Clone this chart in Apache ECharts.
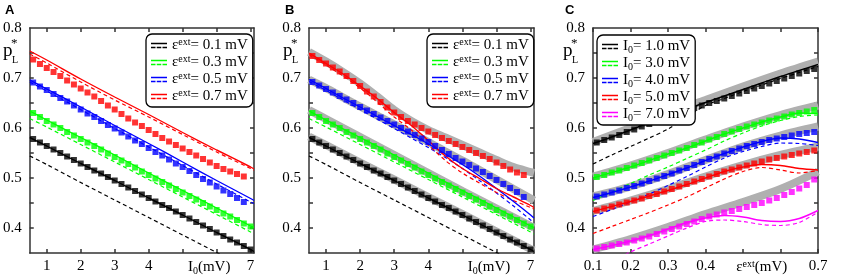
<!DOCTYPE html>
<html><head><meta charset="utf-8">
<script src="https://cdn.jsdelivr.net/npm/echarts@6/dist/echarts.min.js"></script>
<style>html,body{margin:0;padding:0;background:#fff}#c{width:851px;height:278px}</style>
</head><body><div id="c"></div>
<script>
// ---------- DATA ----------
// Panels A & B: x = I0 (mV)
const I0_mk = [0.6,0.8,1.0,1.2,1.4,1.6,1.8,2.0,2.2,2.4,2.6,2.8,3.0,3.2,3.4,3.6,3.8,4.0,4.2,4.4,4.6,4.8,5.0,5.2,5.4,5.6,5.8,6.0,6.2,6.4,6.6,6.8,7.0];
const I0_lnA = [0.5,1,2,3,4,5,6,7,7.1];
const I0_lnB = [0.5,1,1.5,2,2.5,3,3.5,4,4.5,5,5.5,6,6.5,7,7.1];
const I0_ticks = [1,2,3,4,5,6,7];
const I0_labels = [1,2,3,4,5.78,7];

const k_mk = [0.578,0.571,0.564,0.557,0.550,0.543,0.536,0.529,0.522,0.515,0.509,0.502,0.495,0.488,0.481,0.474,0.467,0.460,0.453,0.446,0.440,0.433,0.426,0.419,0.412,0.405,0.398,0.391,0.384,0.377,0.371,0.364,0.357];
const g_mk = [0.630,0.622,0.614,0.607,0.600,0.592,0.585,0.578,0.571,0.564,0.557,0.549,0.542,0.535,0.528,0.521,0.513,0.506,0.499,0.492,0.485,0.478,0.471,0.464,0.457,0.450,0.443,0.436,0.429,0.423,0.416,0.409,0.403];
const A_b_mk = [0.691,0.683,0.676,0.668,0.660,0.653,0.645,0.637,0.629,0.622,0.614,0.606,0.599,0.591,0.583,0.575,0.568,0.560,0.552,0.545,0.537,0.529,0.522,0.514,0.506,0.498,0.491,0.483,0.475,0.468,0.460,0.452];
const A_r_mk = [0.737,0.728,0.720,0.712,0.704,0.695,0.687,0.679,0.671,0.663,0.654,0.645,0.637,0.628,0.619,0.611,0.604,0.596,0.588,0.580,0.573,0.566,0.559,0.552,0.545,0.538,0.531,0.524,0.518,0.513,0.508,0.503];

const k_solid = [0.581,0.564,0.529,0.495,0.460,0.426,0.391,0.357,0.353];
const k_dash  = [0.544,0.527,0.491,0.456,0.421,0.386,0.351,0.316,0.312];
const g_solid = [0.634,0.616,0.581,0.546,0.510,0.475,0.440,0.404,0.401];
const g_dash  = [0.619,0.602,0.567,0.532,0.497,0.462,0.427,0.392,0.388];
const A_b_solid = [0.696,0.678,0.642,0.605,0.569,0.532,0.495,0.459,0.455];
const A_b_dash  = [0.692,0.674,0.637,0.599,0.562,0.525,0.488,0.452,0.449];
const A_r_solid = [0.754,0.736,0.698,0.662,0.627,0.591,0.556,0.522,0.518];
const A_r_dash  = [0.748,0.730,0.692,0.656,0.622,0.587,0.552,0.519,0.515];

const B_k_band = [0.583,0.566,0.531,0.497,0.462,0.428,0.393,0.358,0.355];
const B_g_band = [0.636,0.618,0.582,0.546,0.510,0.474,0.439,0.404,0.401];
const B_b_band = [0.697,0.680,0.661,0.643,0.625,0.607,0.590,0.572,0.553,0.535,0.516,0.497,0.478,0.459,0.455];
const B_r_band = [0.752,0.733,0.712,0.689,0.663,0.636,0.614,0.596,0.581,0.566,0.551,0.536,0.522,0.512,0.510];
const B_b_solid = [0.697,0.679,0.660,0.642,0.623,0.605,0.587,0.568,0.548,0.527,0.504,0.479,0.453,0.426,0.420];
const B_b_dash  = [0.693,0.675,0.656,0.637,0.618,0.599,0.580,0.561,0.541,0.519,0.495,0.470,0.444,0.416,0.410];
const B_r_solid = [0.750,0.729,0.708,0.684,0.659,0.631,0.605,0.575,0.544,0.519,0.499,0.479,0.462,0.445,0.441];
const B_r_dash  = [0.747,0.726,0.704,0.680,0.652,0.622,0.596,0.566,0.535,0.510,0.490,0.471,0.455,0.441,0.438];
const B_b_mk = [0.692,0.685,0.678,0.671,0.664,0.657,0.650,0.642,0.635,0.628,0.621,0.614,0.607,0.600,0.593,0.586,0.579,0.572,0.564,0.556,0.548,0.540,0.533,0.526,0.519,0.512,0.504,0.496,0.488,0.480,0.472,0.462];
const B_r_mk = [0.744,0.736,0.729,0.721,0.713,0.704,0.694,0.684,0.673,0.663,0.652,0.641,0.631,0.622,0.614,0.607,0.600,0.593,0.586,0.580,0.574,0.568,0.562,0.556,0.550,0.544,0.538,0.531,0.524,0.517,0.511,0.506];

// Panel C: x = eps_ext (mV)
const e_mk = [0.11,0.13,0.15,0.17,0.19,0.21,0.23,0.25,0.27,0.29,0.31,0.33,0.35,0.37,0.39,0.41,0.43,0.45,0.47,0.49,0.51,0.53,0.55,0.57,0.59,0.61,0.63,0.65,0.67,0.69];
const e_ln = [0.1,0.15,0.2,0.25,0.3,0.35,0.4,0.45,0.5,0.55,0.6,0.65,0.7];
const e_bd = [0.1,0.2,0.3,0.4,0.5,0.6,0.7];
const e_ticks = [0.1,0.2,0.3,0.4,0.5,0.6,0.7];
const e_labels = [0.1,0.2,0.3,0.4,0.55,0.7];

const C_k_solid = [0.569,0.582,0.596,0.611,0.625,0.638,0.651,0.664,0.677,0.690,0.703,0.715,0.727];
const C_k_dash  = [0.528,0.546,0.563,0.580,0.598,0.622,0.645,0.659,0.673,0.686,0.699,0.711,0.723];
const C_k_mk = [0.571,0.576,0.581,0.586,0.592,0.597,0.603,0.608,0.614,0.619,0.625,0.630,0.635,0.640,0.645,0.650,0.654,0.659,0.664,0.669,0.674,0.679,0.684,0.689,0.694,0.699,0.704,0.709,0.714,0.718];
const C_k_band = [0.572,0.600,0.629,0.656,0.683,0.709,0.733];
const C_g_solid = [0.500,0.511,0.522,0.535,0.548,0.560,0.574,0.588,0.600,0.612,0.622,0.630,0.629];
const C_g_dash  = [0.455,0.472,0.489,0.506,0.522,0.539,0.556,0.574,0.590,0.604,0.615,0.623,0.626];
const C_g_mk = [0.502,0.506,0.511,0.515,0.520,0.525,0.530,0.535,0.540,0.545,0.550,0.555,0.560,0.566,0.571,0.577,0.582,0.588,0.593,0.598,0.603,0.607,0.611,0.615,0.619,0.623,0.627,0.630,0.633,0.636];
const C_g_band = [0.503,0.525,0.550,0.577,0.603,0.626,0.645];
const C_b_solid = [0.461,0.471,0.482,0.494,0.507,0.520,0.535,0.549,0.562,0.573,0.580,0.578,0.571];
const C_b_dash  = [0.423,0.437,0.452,0.468,0.485,0.503,0.522,0.540,0.553,0.563,0.570,0.569,0.565];
const C_b_mk = [0.463,0.467,0.471,0.475,0.480,0.484,0.489,0.494,0.499,0.504,0.509,0.515,0.520,0.526,0.532,0.538,0.543,0.549,0.554,0.559,0.564,0.568,0.572,0.576,0.579,0.582,0.585,0.588,0.590,0.592];
const C_b_band = [0.463,0.483,0.508,0.536,0.563,0.585,0.603];
const C_r_solid = [0.433,0.443,0.453,0.464,0.475,0.487,0.500,0.513,0.522,0.527,0.525,0.519,0.516];
const C_r_dash  = [0.389,0.403,0.417,0.431,0.446,0.462,0.480,0.498,0.513,0.521,0.516,0.510,0.515];
const C_r_mk = [0.435,0.439,0.443,0.447,0.451,0.455,0.459,0.464,0.468,0.473,0.478,0.483,0.488,0.493,0.498,0.503,0.508,0.513,0.517,0.521,0.525,0.529,0.533,0.537,0.540,0.543,0.546,0.549,0.552,0.555];
const C_r_band = [0.434,0.455,0.478,0.503,0.526,0.546,0.563];
const C_m_solid = [0.357,0.365,0.374,0.385,0.398,0.411,0.420,0.425,0.422,0.415,0.413,0.419,0.435];
const C_m_dash  = [0.318,0.333,0.352,0.368,0.384,0.400,0.413,0.416,0.413,0.407,0.405,0.411,0.432];
const C_m_mk = [0.359,0.362,0.365,0.368,0.371,0.375,0.379,0.383,0.388,0.393,0.398,0.403,0.408,0.413,0.418,0.423,0.427,0.431,0.434,0.438,0.442,0.446,0.450,0.455,0.460,0.466,0.472,0.479,0.486,0.497];
const C_m_band = [0.357,0.378,0.402,0.428,0.452,0.478,0.513];

const y_ticks = [0.4,0.45,0.5,0.55,0.6,0.65,0.7,0.75];
const y_labels = [0.4,0.5,0.6,0.7,0.8];

const eps_vals = ['0.1','0.3','0.5','0.7'];
const I0_vals = ['1.0','3.0','4.0','5.0','7.0'];

// ---------- STYLE ----------
const K='#000000', G='#00ff00', BL='#0000ff', R='#ff0000', M='#ff00ff', GRAY='#b0b0b0';
const SERIF='Liberation Serif';
const frame={color:'#333',width:1.5};
const richT={
  n:{fontFamily:SERIF,fontSize:15,color:'#000'},
  s:{fontFamily:SERIF,fontSize:10,color:'#000',padding:[7,0,0,0]},
  u:{fontFamily:SERIF,fontSize:10,color:'#000',padding:[0,0,7,0]}
};

const zip=(xs,ys)=>ys.map((y,i)=>[xs[i],y]);
const series=[];
function band(g,xs,ys){series.push({type:'line',xAxisIndex:2*g,yAxisIndex:2*g,data:zip(xs,ys),symbol:'none',smooth:0.3,lineStyle:{color:GRAY,width:8},z:1,silent:true});}
function dash(g,c,xs,ys){series.push({type:'line',xAxisIndex:2*g,yAxisIndex:2*g,data:zip(xs,ys),symbol:'none',smooth:0.3,color:c,lineStyle:{color:c,width:1.2,type:[4,3]},z:2});}
function solid(g,c,xs,ys,name){series.push({type:'line',name:name,xAxisIndex:2*g,yAxisIndex:2*g,data:zip(xs,ys),symbol:'none',smooth:0.3,color:c,lineStyle:{color:c,width:1.4},z:3});}
function marks(g,c,xs,ys){series.push({type:'scatter',xAxisIndex:2*g,yAxisIndex:2*g,data:zip(xs,ys),symbol:'rect',symbolSize:6,itemStyle:{color:c},z:4});}

// Panel A
dash(0,K,I0_lnA,k_dash); dash(0,G,I0_lnA,g_dash); dash(0,BL,I0_lnA,A_b_dash); dash(0,R,I0_lnA,A_r_dash);
solid(0,K,I0_lnA,k_solid,'A0.1'); solid(0,G,I0_lnA,g_solid,'A0.3'); solid(0,BL,I0_lnA,A_b_solid,'A0.5'); solid(0,R,I0_lnA,A_r_solid,'A0.7');
marks(0,K,I0_mk,k_mk); marks(0,G,I0_mk,g_mk); marks(0,BL,I0_mk,A_b_mk); marks(0,R,I0_mk,A_r_mk);
// Panel B
band(1,I0_lnA,B_k_band); band(1,I0_lnA,B_g_band); band(1,I0_lnB,B_b_band); band(1,I0_lnB,B_r_band);
dash(1,K,I0_lnA,k_dash); dash(1,G,I0_lnA,g_dash); dash(1,BL,I0_lnB,B_b_dash); dash(1,R,I0_lnB,B_r_dash);
solid(1,K,I0_lnA,k_solid,'B0.1'); solid(1,G,I0_lnA,g_solid,'B0.3'); solid(1,BL,I0_lnB,B_b_solid,'B0.5'); solid(1,R,I0_lnB,B_r_solid,'B0.7');
marks(1,K,I0_mk,k_mk); marks(1,G,I0_mk,g_mk); marks(1,BL,I0_mk,B_b_mk); marks(1,R,I0_mk,B_r_mk);
// Panel C
band(2,e_bd,C_k_band); band(2,e_bd,C_g_band); band(2,e_bd,C_b_band); band(2,e_bd,C_r_band); band(2,e_bd,C_m_band);
dash(2,K,e_ln,C_k_dash); dash(2,G,e_ln,C_g_dash); dash(2,BL,e_ln,C_b_dash); dash(2,R,e_ln,C_r_dash); dash(2,M,e_ln,C_m_dash);
solid(2,K,e_ln,C_k_solid,'C1.0'); solid(2,G,e_ln,C_g_solid,'C3.0'); solid(2,BL,e_ln,C_b_solid,'C4.0'); solid(2,R,e_ln,C_r_solid,'C5.0'); solid(2,M,e_ln,C_m_solid,'C7.0');
marks(2,K,e_mk,C_k_mk); marks(2,G,e_mk,C_g_mk); marks(2,BL,e_mk,C_b_mk); marks(2,R,e_mk,C_r_mk); marks(2,M,e_mk,C_m_mk);

// ---------- AXES ----------
const near=(a,b)=>Math.abs(a-b)<1e-6;
function xAxes(g,min,max,ticks,labels,fmt){
  return [
    {gridIndex:g,type:'value',min,max,position:'bottom',axisLine:{show:true,onZero:false,lineStyle:frame},
     axisTick:{show:true,inside:true,length:4,customValues:ticks,lineStyle:frame},
     axisLabel:{customValues:labels,formatter:fmt,fontFamily:SERIF,fontSize:15,color:'#000',margin:6,rich:richT},splitLine:{show:false}},
    {gridIndex:g,type:'value',min,max,position:'top',axisLine:{show:true,onZero:false,lineStyle:frame},
     axisTick:{show:true,inside:true,length:4,customValues:ticks,lineStyle:frame},axisLabel:{show:false},splitLine:{show:false}}
  ];
}
function yAxes(g){
  return [
    {gridIndex:g,type:'value',min:0.35,max:0.8,position:'left',axisLine:{show:true,onZero:false,lineStyle:frame},
     axisTick:{show:true,inside:true,length:4,customValues:y_ticks,lineStyle:frame},
     axisLabel:{customValues:y_labels,formatter:v=>v.toFixed(1),fontFamily:SERIF,fontSize:15,color:'#000',margin:8},splitLine:{show:false}},
    {gridIndex:g,type:'value',min:0.35,max:0.8,position:'right',axisLine:{show:true,onZero:false,lineStyle:frame},
     axisTick:{show:true,inside:true,length:4,customValues:y_ticks,lineStyle:frame},axisLabel:{show:false},splitLine:{show:false}}
  ];
}
const fmtI=v=>near(v,5.78)?'{n|I}{s|0}{n|(mV)}':String(v);
const fmtE=v=>near(v,0.55)?'{n|ε}{u|ext}{n|(mV)}':v.toFixed(1);

// ---------- LEGENDS ----------
const ICON='path://M0,0H16V1.5H0Z M0,4H4.5V5.5H0Z M5.75,4H10.25V5.5H5.75Z M11.5,4H16V5.5H11.5Z';
const legRich={
  n:{fontFamily:SERIF,fontSize:15,color:'#000',lineHeight:16},
  s:{fontFamily:SERIF,fontSize:10,color:'#000',padding:[7,0,0,0],lineHeight:16},
  u:{fontFamily:SERIF,fontSize:10,color:'#000',padding:[0,0,7,0],lineHeight:16}
};
function legend(left,top,names,fmt){
  return {left,top,orient:'vertical',itemGap:0,itemWidth:16,itemHeight:6,icon:ICON,
    padding:[3,5,2,5],borderColor:'#000',borderWidth:1.3,borderRadius:6,backgroundColor:'#fff',
    itemStyle:{borderWidth:0},selectedMode:false,data:names,formatter:fmt,
    textStyle:{fontFamily:SERIF,fontSize:15,color:'#000',lineHeight:16,rich:legRich},z:10};
}
const epsFmt=name=>'{n|ε}{u|ext}{n|= '+name.slice(1)+' mV}';
const iFmt=name=>'{n|I}{s|0}{n|= '+name.slice(1)+' mV}';

// ---------- TEXT ----------
const graphic=[];
[['A',0],['B',280],['C',560]].forEach(([L,ox])=>{
  graphic.push({type:'text',x:ox+5,y:4,style:{text:L,font:'bold 13px "Liberation Sans"',fill:'#000',verticalAlign:'top'}});
  graphic.push({type:'text',x:ox+3,y:51,style:{text:'p',font:'19px "Liberation Serif"',fill:'#000',verticalAlign:'middle'}});
  graphic.push({type:'text',x:ox+12,y:60,style:{text:'L',font:'10px "Liberation Serif"',fill:'#000',verticalAlign:'middle'}});
  graphic.push({type:'text',x:ox+11,y:44,style:{text:'*',font:'13px "Liberation Serif"',fill:'#000',verticalAlign:'middle'}});
});

const option={
  animation:false,
  grid:[{left:29,top:28,width:225,height:225},{left:309,top:28,width:225,height:225},{left:593,top:28,width:225,height:225}],
  xAxis:[...xAxes(0,0.5,7.1,I0_ticks,I0_labels,fmtI),...xAxes(1,0.5,7.1,I0_ticks,I0_labels,fmtI),...xAxes(2,0.1,0.7,e_ticks,e_labels,fmtE)],
  yAxis:[...yAxes(0),...yAxes(1),...yAxes(2)],
  legend:[
    legend(146,34,eps_vals.map(v=>'A'+v),epsFmt),
    legend(427,34,eps_vals.map(v=>'B'+v),epsFmt),
    legend(597,35,I0_vals.map(v=>'C'+v),iFmt)
  ],
  graphic,
  series
};
const chart=echarts.init(document.getElementById('c'),null,{renderer:'canvas'});
chart.setOption(option);
</script></body></html>
